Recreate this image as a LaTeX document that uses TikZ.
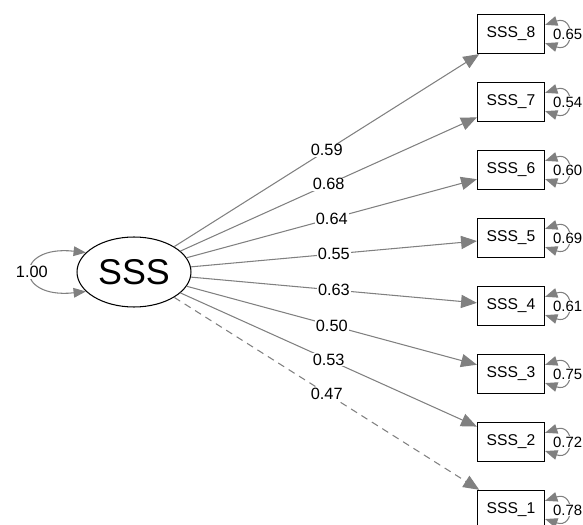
\documentclass[tikz,border=0pt]{standalone}
\usepackage{fontspec}
\setmainfont{Liberation Sans}
\usetikzlibrary{positioning,shapes.geometric,arrows.meta}

\begin{document}
\begin{tikzpicture}[x=0.02cm, y=0.02cm, node distance=1.36cm,
            latent/.style={ellipse, draw, line width=0.6pt, minimum width=2.28cm, minimum height=1.4cm, inner sep=0pt, font=\fontsize{20.4}{22}\selectfont},
            item/.style={rectangle, draw, line width=0.7pt, minimum width=1.34cm, minimum height=0.78cm, inner sep=0pt, font=\fontsize{8.9}{10}\selectfont},
            load/.style={-{Triangle[length=9pt, width=7.5pt]}, draw=gray, line width=0.6pt},
            var/.style={{Triangle[length=7pt, width=5.5pt]}-{Triangle[length=7pt, width=5.5pt]}, draw=gray, line width=0.6pt},
            coef/.style={fill=white, inner sep=0.5pt, font=\fontsize{9.3}{10}\selectfont},
            rcoef/.style={fill=white, inner sep=0.5pt, font=\fontsize{8.5}{10}\selectfont}]

        \useasboundingbox (0,0) rectangle (583,525);

        \node[latent] (sss) at (134,253) {SSS};
        \node[item] (s8) at (511,491) {SSS\_8};
        \node[item, below of=s8] (s7) {SSS\_7};
        \node[item, below of=s7] (s6) {SSS\_6};
        \node[item, below of=s6] (s5) {SSS\_5};
        \node[item, below of=s5] (s4) {SSS\_4};
        \node[item, below of=s4] (s3) {SSS\_3};
        \node[item, below of=s3] (s2) {SSS\_2};
        \node[item, below of=s2] (s1) {SSS\_1};

        \draw[var] (sss.158) .. controls +(-72,8) and +(-72,-8) .. node[coef] {1.00} (sss.202);

        \draw[load] (sss) -- node[coef] {0.59} (s8);
        \draw[load] (sss) -- node[coef] {0.68} (s7);
        \draw[load] (sss) -- node[coef] {0.64} (s6);
        \draw[load] (sss) -- node[coef] {0.55} (s5);
        \draw[load] (sss) -- node[coef] {0.63} (s4);
        \draw[load] (sss) -- node[coef] {0.50} (s3);
        \draw[load] (sss) -- node[coef] {0.53} (s2);
        \draw[load, dash pattern=on 4pt off 3pt] (sss) -- node[coef] {0.47} (s1);

        % residual variances
        \draw[var] (s8.15) .. controls +(30,10) and +(30,-10) .. node[rcoef] {0.65} (s8.-15);
        \draw[var] (s7.15) .. controls +(30,10) and +(30,-10) .. node[rcoef] {0.54} (s7.-15);
        \draw[var] (s6.15) .. controls +(30,10) and +(30,-10) .. node[rcoef] {0.60} (s6.-15);
        \draw[var] (s5.15) .. controls +(30,10) and +(30,-10) .. node[rcoef] {0.69} (s5.-15);
        \draw[var] (s4.15) .. controls +(30,10) and +(30,-10) .. node[rcoef] {0.61} (s4.-15);
        \draw[var] (s3.15) .. controls +(30,10) and +(30,-10) .. node[rcoef] {0.75} (s3.-15);
        \draw[var] (s2.15) .. controls +(30,10) and +(30,-10) .. node[rcoef] {0.72} (s2.-15);
        \draw[var] (s1.15) .. controls +(30,10) and +(30,-10) .. node[rcoef] {0.78} (s1.-15);
    \end{tikzpicture}
\end{document}
